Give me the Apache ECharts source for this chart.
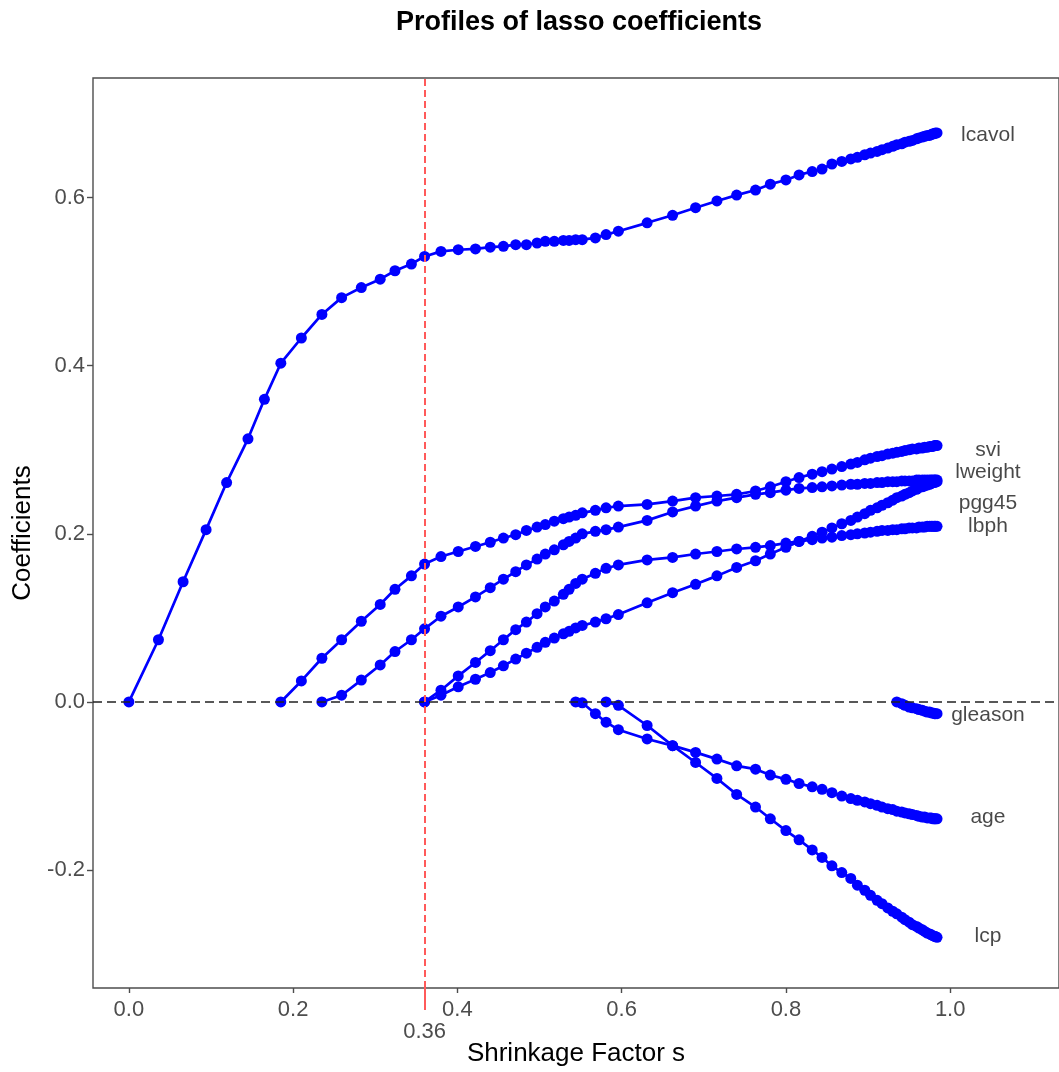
<!DOCTYPE html>
<html>
<head>
<meta charset="utf-8">
<script src="https://cdn.jsdelivr.net/npm/echarts@6/dist/echarts.min.js"></script>
<style>
html,body{margin:0;padding:0;background:#fff;}
#chart{width:1059px;height:1072px;}
</style>
</head>
<body>
<div id="chart"></div>
<script>
const pad = n => Array(n).fill(null);

// Shrinkage factor s for each step of the path
const S = [0.000,0.036,0.066,0.094,0.119,0.145,0.165,0.185,0.210,0.235,
           0.259,0.283,0.306,0.324,0.344,0.360,0.380,0.401,0.422,0.440,
           0.456,0.471,0.484,0.497,0.507,0.518,0.529,0.536,0.544,0.552,
           0.568,0.581,0.596,0.631,0.662,0.690,0.716,0.740,0.763,0.781,
           0.800,0.816,0.832,0.844,0.856,0.868,0.879,0.887,0.896,0.903,
           0.911,0.917,0.924,0.930,0.935,0.941,0.945,0.950,0.954,0.959,
           0.962,0.966,0.969,0.972,0.975,0.977,0.979,0.981,0.982,0.984];

const lcavol = [0.000,0.074,0.143,0.205,0.261,0.313,0.360,0.403,0.433,0.461,
                0.481,0.493,0.503,0.513,0.521,0.530,0.536,0.538,0.539,0.541,
                0.542,0.544,0.544,0.546,0.548,0.548,0.549,0.549,0.550,0.550,
                0.552,0.556,0.560,0.570,0.579,0.588,0.596,0.603,0.609,0.616,
                0.621,0.627,0.631,0.634,0.640,0.643,0.646,0.648,0.651,0.653,
                0.655,0.657,0.659,0.661,0.663,0.664,0.666,0.667,0.668,0.670,
                0.671,0.672,0.673,0.674,0.674,0.675,0.676,0.676,0.677,0.677];

const svi = [...pad(7), 0.000,0.025,0.052,
             0.074,0.096,0.116,0.134,0.150,0.164,0.173,0.179,0.185,0.190,
             0.195,0.199,0.204,0.208,0.211,0.215,0.218,0.220,0.222,0.225,
             0.228,0.231,0.233,0.235,0.239,0.243,0.245,0.247,0.251,0.256,
             0.262,0.267,0.271,0.274,0.277,0.280,0.283,0.285,0.288,0.290,
             0.292,0.293,0.295,0.296,0.297,0.298,0.299,0.300,0.301,0.301,
             0.302,0.302,0.303,0.303,0.304,0.304,0.304,0.305,0.305,0.305];

const lweight = [...pad(9), 0.000,
             0.008,0.026,0.044,0.060,0.074,0.087,0.102,0.113,0.125,0.136,
             0.146,0.155,0.163,0.170,0.176,0.181,0.187,0.191,0.195,0.200,
             0.203,0.205,0.208,0.216,0.226,0.233,0.239,0.243,0.247,0.249,
             0.252,0.254,0.255,0.256,0.257,0.258,0.259,0.259,0.260,0.260,
             0.261,0.261,0.262,0.262,0.262,0.263,0.263,0.263,0.263,0.264,
             0.264,0.264,0.264,0.264,0.264,0.264,0.264,0.264,0.264,0.264];

const pgg45 = [...pad(15), 0.000,0.008,0.018,0.027,0.035,
             0.043,0.051,0.058,0.065,0.071,0.076,0.081,0.084,0.088,0.091,
             0.095,0.099,0.104,0.118,0.130,0.140,0.150,0.160,0.168,0.176,
             0.184,0.191,0.197,0.202,0.207,0.212,0.216,0.220,0.224,0.228,
             0.231,0.234,0.237,0.240,0.243,0.245,0.247,0.249,0.251,0.253,
             0.255,0.256,0.257,0.258,0.259,0.260,0.261,0.261,0.262,0.262];

const lbph = [...pad(15), 0.000,0.014,0.031,0.047,0.061,
             0.074,0.086,0.095,0.105,0.113,0.120,0.128,0.134,0.141,0.146,
             0.153,0.159,0.163,0.169,0.172,0.176,0.179,0.182,0.184,0.186,
             0.189,0.191,0.193,0.195,0.196,0.198,0.199,0.200,0.201,0.202,
             0.203,0.204,0.204,0.205,0.205,0.206,0.206,0.207,0.207,0.207,
             0.208,0.208,0.208,0.209,0.209,0.209,0.209,0.209,0.209,0.209];

const age = [...pad(28), 0.000,-0.001,
             -0.014,-0.024,-0.033,-0.044,-0.052,-0.060,-0.068,-0.076,-0.080,-0.087,
             -0.092,-0.097,-0.101,-0.104,-0.108,-0.112,-0.115,-0.117,-0.119,-0.121,
             -0.123,-0.125,-0.127,-0.128,-0.130,-0.131,-0.132,-0.133,-0.134,-0.135,
             -0.136,-0.137,-0.137,-0.138,-0.138,-0.138,-0.139,-0.139,-0.139,-0.139];

const lcp = [...pad(31), 0.000,-0.004,-0.028,-0.052,-0.072,-0.091,-0.110,-0.125,-0.139,
             -0.153,-0.164,-0.176,-0.185,-0.195,-0.203,-0.210,-0.218,-0.224,-0.230,
             -0.236,-0.240,-0.245,-0.249,-0.252,-0.256,-0.259,-0.262,-0.265,-0.267,
             -0.269,-0.271,-0.273,-0.275,-0.276,-0.277,-0.278,-0.279,-0.279,-0.280];

const gleason = [...pad(54), 0.000,-0.002,-0.004,-0.006,-0.007,-0.008,
             -0.009,-0.010,-0.011,-0.012,-0.012,-0.013,-0.013,-0.014,-0.014,-0.014];

const seriesNames = ['lcavol','svi','lweight','pgg45','lbph','gleason','age','lcp'];
const seriesValues = [lcavol, svi, lweight, pgg45, lbph, gleason, age, lcp];

// Text labels at the right end
const labelNames = ['lcavol','svi','lweight','pgg45','lbph','gleason','age','lcp'];
const labelS     = [1.046, 1.046, 1.046, 1.046, 1.046, 1.046, 1.046, 1.046];
const labelCoef  = [0.674, 0.300, 0.273, 0.237, 0.209, -0.0155, -0.137, -0.279];

const xTicks = [0.0, 0.2, 0.4, 0.6, 0.8, 1.0];
const yTicks = [-0.2, 0.0, 0.2, 0.4, 0.6];
const sCut = 0.36;
const sCutLabel = '0.36';

const XMIN = -0.0437, XMAX = 1.1325;
const YMIN = -0.3403, YMAX = 0.7423;

const FONT = "'Liberation Sans', Arial, Helvetica, sans-serif";
const BLUE = '#0000ff';
const AXC = '#4d4d4d';

const chart = echarts.init(document.getElementById('chart'), null, {renderer:'canvas'});

const lineSeries = seriesNames.map((name, k) => ({
  name: name,
  type: 'line',
  data: S.map((s, i) => seriesValues[k][i] == null ? null : [s, seriesValues[k][i]]).filter(d => d),
  symbol: 'circle',
  symbolSize: 11,
  showSymbol: true,
  lineStyle: {color: BLUE, width: 2.7},
  itemStyle: {color: BLUE},
  z: 3,
  silent: true
}));

const option = {
  animation: false,
  backgroundColor: '#fff',
  graphic: [{
    type: 'text', x: 579, y: 23,
    style: {text: 'Profiles of lasso coefficients', textAlign: 'center', textVerticalAlign: 'middle',
            font: 'bold 27px ' + FONT, fill: '#000'}
  }],
  grid: {left: 93, top: 78, right: -2, bottom: 81, show: true, borderColor: AXC, borderWidth: 1.4, backgroundColor: '#fff'},
  xAxis: [{
    type: 'value', min: XMIN, max: XMAX,
    axisLine: {show: false, onZero: false}, splitLine: {show: false},
    axisTick: {show: true, customValues: xTicks, length: 5, lineStyle: {color: AXC, width: 1.4}},
    axisLabel: {customValues: xTicks, formatter: v => v.toFixed(1), fontSize: 22, color: AXC, margin: 11, fontFamily: FONT},
    name: 'Shrinkage Factor s', nameLocation: 'middle', nameGap: 53,
    nameTextStyle: {fontSize: 26, color: '#000', fontFamily: FONT}
  }, {
    type: 'value', min: XMIN, max: XMAX, position: 'bottom',
    axisLine: {show: false, onZero: false}, splitLine: {show: false},
    axisTick: {show: true, customValues: [sCut], length: 22, lineStyle: {color: '#ff5a5a', width: 2}},
    axisLabel: {customValues: [sCut], formatter: () => sCutLabel, fontSize: 22, color: AXC, margin: 33, fontFamily: FONT}
  }],
  yAxis: {
    type: 'value', min: YMIN, max: YMAX,
    axisLine: {show: false, onZero: false}, splitLine: {show: false},
    axisTick: {show: true, customValues: yTicks, length: 6, lineStyle: {color: AXC, width: 1.4}},
    axisLabel: {customValues: yTicks, formatter: v => v.toFixed(1), fontSize: 22, color: AXC, margin: 8, fontFamily: FONT},
    name: 'Coefficients', nameLocation: 'middle', nameGap: 47,
    nameTextStyle: {fontSize: 26, color: '#000', fontFamily: FONT}
  },
  series: [
    {
      type: 'line', data: [], z: 1, silent: true,
      markLine: {
        silent: true, symbol: ['none', 'none'], label: {show: false}, animation: false,
        data: [
          {yAxis: 0, lineStyle: {color: '#222', type: [9, 5], width: 1.6}},
          {xAxis: sCut, lineStyle: {color: '#ff5a5a', type: [7, 4], width: 2}}
        ]
      }
    },
    ...lineSeries,
    {
      type: 'scatter', symbolSize: 0, z: 5, silent: true,
      data: labelNames.map((n, i) => ({name: n, value: [labelS[i], labelCoef[i]]})),
      label: {show: true, position: 'inside', formatter: p => p.name, fontSize: 21, color: '#1a1a1a', fontFamily: FONT}
    }
  ]
};
chart.setOption(option);
</script>
</body>
</html>
